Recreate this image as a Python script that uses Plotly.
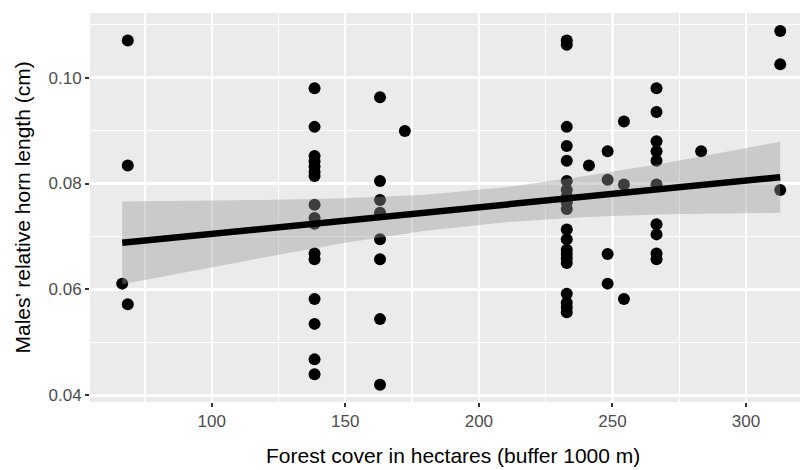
import plotly.graph_objects as go

# ---- data ----
site_cover = [66.5, 68.6, 138.5, 163.0, 172.3, 232.9, 241.2, 248.2, 254.3, 266.5, 283.2, 312.8]
horn_by_site = [
    [0.0611],
    [0.1070, 0.0834, 0.0572],
    [0.0980, 0.0907, 0.0852, 0.0842, 0.0832, 0.0822, 0.0814, 0.0760, 0.0735, 0.0724,
     0.0668, 0.0657, 0.0582, 0.0535, 0.0468, 0.0440],
    [0.0963, 0.0805, 0.0769, 0.0745, 0.0695, 0.0657, 0.0544, 0.0420],
    [0.0899],
    [0.1070, 0.1062, 0.0907, 0.0871, 0.0843, 0.0805, 0.0788, 0.0776, 0.0764, 0.0752,
     0.0713, 0.0695, 0.0675, 0.0667, 0.0659, 0.0650, 0.0592, 0.0575, 0.0566, 0.0557],
    [0.0834],
    [0.0861, 0.0807, 0.0667, 0.0611],
    [0.0917, 0.0798, 0.0582],
    [0.0980, 0.0935, 0.0880, 0.0861, 0.0843, 0.0798, 0.0723, 0.0704, 0.0668, 0.0657],
    [0.0861],
    [0.1088, 0.1025, 0.0788],
]

# linear fit and its confidence band
fit_x = [66.5, 312.8]
fit_y = [0.0688, 0.0812]
band_x = [66.5, 90, 120, 150, 180, 210, 240, 270, 300, 312.8]
band_lo = [0.0610, 0.0633, 0.0661, 0.0688, 0.0711, 0.0727, 0.0737, 0.0742, 0.0744, 0.0745]
band_hi = [0.0766, 0.0767, 0.0769, 0.0772, 0.0779, 0.0793, 0.0814, 0.0839, 0.0867, 0.0879]

x_title = "Forest cover in hectares (buffer 1000 m)"
y_title = "Males\u2019 relative horn length (cm)"

# ---- build ----
pts_x, pts_y = [], []
for cx, ys in zip(site_cover, horn_by_site):
    for yv in ys:
        pts_x.append(cx)
        pts_y.append(yv)

FONT = "Liberation Sans, Arial, Helvetica, sans-serif"

fig = go.Figure()
fig.add_trace(go.Scatter(
    x=pts_x, y=pts_y, mode="markers",
    marker=dict(color="black", size=12, line=dict(width=0)),
    hoverinfo="skip", showlegend=False))
fig.add_trace(go.Scatter(
    x=band_x + band_x[::-1], y=band_hi + band_lo[::-1],
    mode="lines", line=dict(width=0), fill="toself",
    fillcolor="rgba(153,153,153,0.4)", hoverinfo="skip", showlegend=False))
fig.add_trace(go.Scatter(
    x=fit_x, y=fit_y, mode="lines", line=dict(color="black", width=6.5),
    hoverinfo="skip", showlegend=False))

axis_common = dict(
    showline=False, zeroline=False, gridcolor="white", gridwidth=2.4,
    ticks="outside", ticklen=4, tickwidth=2, tickcolor="#333333",
    tickfont=dict(family=FONT, size=17, color="#4D4D4D"),
    automargin=False,
)

fig.update_layout(
    width=800, height=470,
    margin=dict(l=90, r=0, t=13, b=68, autoexpand=False),
    paper_bgcolor="white", plot_bgcolor="#EBEBEB",
    font=dict(family=FONT),
    xaxis=dict(range=[54.45, 320.2], tick0=0, dtick=50,
               minor=dict(tick0=0, dtick=25, showgrid=True, gridcolor="white", gridwidth=1.2, ticks=""),
               **axis_common),
    yaxis=dict(range=[0.03875, 0.1122], tick0=0, dtick=0.02, tickformat=".2f",
               minor=dict(tick0=0, dtick=0.01, showgrid=True, gridcolor="white", gridwidth=1.2, ticks=""),
               **axis_common),
    annotations=[
        dict(text=x_title, xref="paper", yref="paper", x=0.511, y=0, yshift=-53,
             xanchor="center", yanchor="middle", showarrow=False,
             font=dict(family=FONT, size=21, color="black")),
        dict(text=y_title, xref="paper", yref="paper", x=0, xshift=-68, y=0.5,
             xanchor="center", yanchor="middle", textangle=-90, showarrow=False,
             font=dict(family=FONT, size=21, color="black")),
    ],
)

fig.write_html(
    "out.html",
    config={"displayModeBar": False, "staticPlot": True},
    post_script="document.body.style.margin='0';document.body.style.padding='0';"
                "document.documentElement.style.overflow='hidden';",
)
